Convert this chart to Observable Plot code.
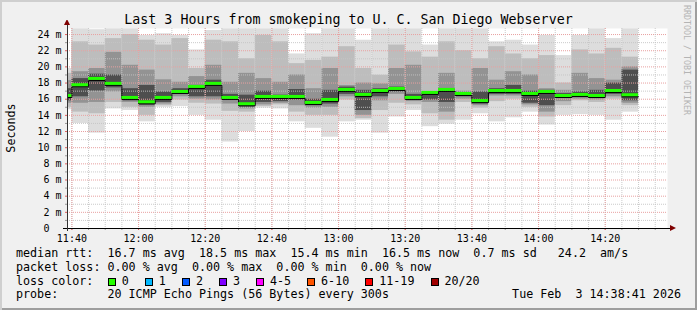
<!DOCTYPE html>
<html><head><meta charset="utf-8">
<script src="https://cdn.jsdelivr.net/npm/d3@7"></script>
<script src="https://cdn.jsdelivr.net/npm/@observablehq/plot@0.6"></script>
<style>
body{margin:0;background:#fff;}
#frame{position:relative;width:697px;height:310px;background:#f0f0f0;overflow:hidden;
  box-shadow: inset 2px 2px 0 #cfcfcf, inset -2px -2px 0 #9e9e9e;
  font-family:"DejaVu Sans Mono",monospace;color:#000;}
.abs{position:absolute;white-space:pre;}
#title{left:0;top:12px;width:697px;text-align:center;font-size:13.3px;line-height:15px;}
#ylab{left:-39.5px;top:121.5px;width:100px;height:12px;line-height:12px;text-align:center;font-size:11.7px;transform:rotate(-90deg);}
#rrd{left:627px;top:55px;width:120px;height:10px;line-height:10px;text-align:center;font-size:8.3px;color:#b4b4b4;transform:rotate(90deg);}
.row{position:absolute;left:16px;font-size:11.7px;line-height:13.67px;white-space:pre;}
.box{position:absolute;width:6px;height:6px;border:1px solid #000;top:278px;}
.lbl{position:absolute;font-size:11.7px;line-height:13.67px;top:275.1px;white-space:pre;}
#date{right:16px;top:288.4px;font-size:11.7px;line-height:13.67px;}
#chart{position:absolute;left:0;top:20px;}
</style></head>
<body>
<div id="frame">
  <div id="title" class="abs"></div>
  <div id="ylab" class="abs">Seconds</div>
  <div id="rrd" class="abs">RRDTOOL / TOBI OETIKER</div>
  <div id="chart"></div>
  <div id="row1" class="row" style="top:247.4px"></div>
  <div id="row2" class="row" style="top:261.07px"></div>
  <div id="row3" class="row" style="top:274.74px"></div>
  <div id="row4" class="row" style="top:288.4px"></div>
  <div id="date" class="abs"></div>
</div>
<script>
// ---- data (values in ms, one entry per 5-minute step) ----
const titleText = "Last 3 Hours from smokeping to U. C. San Diego Webserver";
const stepStarts = ["11:35","11:40","11:45","11:50","11:55","12:00","12:05","12:10","12:15","12:20","12:25","12:30",
  "12:35","12:40","12:45","12:50","12:55","13:00","13:05","13:10","13:15","13:20","13:25","13:30",
  "13:35","13:40","13:45","13:50","13:55","14:00","14:05","14:10","14:15","14:20","14:25"];
const medianRtt = [16.4,17.73,18.51,17.9,16.16,15.62,16.16,16.9,17.52,17.9,16.16,15.38,16.28,16.28,16.28,15.54,15.91,17.15,
  16.53,17.02,17.27,16.16,16.78,17.15,16.65,15.77,17.02,17.02,16.65,16.9,16.4,16.53,16.4,17.02,16.49];
const pingMax = [19.8,24.7,24.6,24.7,24.7,23.9,24.1,23.9,22.1,24.5,24.7,24.7,24.7,24.7,21.6,24.1,24.7,24.7,
  23.3,24.7,24.7,24.7,22.7,24.7,24.7,24.7,23.1,23.3,22.7,23.9,21.4,23.9,24.7,23.5,24.7];
const outerHi = [19.2,23.1,22.7,23.5,24.0,23.3,22.7,23.5,19.8,23.3,23.1,21.0,23.9,23.1,20.4,20.8,21.2,22.5,
  19.8,18.97,22.7,21.85,21.2,23.1,22.0,21.0,22.5,21.6,21.0,21.4,18.0,22.1,21.6,22.3,21.2];
const midHi = [18.3,19.4,19.8,21.8,20.2,19.6,18.4,18.1,18.8,20.2,18.1,19.2,18.55,18.1,19.0,17.3,19.8,17.7,
  18.0,17.9,19.8,20.2,16.9,19.2,17.0,19.8,18.35,19.4,19.0,17.3,17.1,19.2,18.55,18.35,20.0];
const innerHi = [17.3,18.55,19.1,19.0,17.3,17.7,16.9,17.3,17.7,18.35,16.6,16.5,17.0,16.5,17.2,16.0,17.1,17.5,
  17.1,17.3,17.5,16.6,16.8,17.3,16.8,16.9,17.3,17.7,17.0,17.1,16.7,16.9,17.1,18.0,19.6];
const innerLo = [15.8,16.3,17.0,17.4,15.8,15.25,15.6,16.6,16.3,16.3,15.9,15.0,15.6,15.7,15.9,15.2,15.4,16.6,
  14.6,16.3,16.9,15.9,15.9,15.6,16.3,15.4,16.6,16.6,15.5,15.2,16.1,16.2,16.1,16.6,15.8];
const midLo = [15.5,15.5,15.6,16.9,15.6,15.0,15.4,16.3,16.0,15.9,15.4,14.8,15.3,15.5,15.2,14.9,15.0,16.3,
  14.0,15.8,16.6,15.7,15.6,14.4,16.0,15.2,16.4,16.4,15.3,14.4,15.7,16.0,15.9,16.3,15.5];
const outerLo = [15.0,14.4,14.2,15.6,15.0,14.0,15.2,15.9,15.5,15.4,14.5,14.4,15.1,15.3,14.4,14.0,14.0,15.9,
  13.6,14.6,15.5,15.3,14.2,13.4,15.6,14.9,15.7,16.0,15.0,13.8,15.2,15.8,15.6,16.0,15.2];
const pingMin = [14.7,13.0,11.8,14.8,14.6,13.2,15.0,15.1,14.0,13.4,10.7,12.0,14.9,14.8,13.2,12.4,11.3,13.2,
  13.4,11.8,13.8,14.6,12.6,12.9,13.4,14.2,13.2,13.7,14.4,12.8,14.0,14.1,14.0,13.4,14.4];
const yTicks = [0,2,4,6,8,10,12,14,16,18,20,22,24];
const xTickLabels = ["11:40","12:00","12:20","12:40","13:00","13:20","13:40","14:00","14:20"];
const rttStats = ["16.7 ms avg","18.5 ms max","15.4 ms min","16.5 ms now","0.7 ms sd"," 24.2  am/s"];
const lossStats = ["0.00 % avg","0.00 % max","0.00 % min","0.00 % now"];
const lossLabels = ["0","1","2","3","4-5","6-10","11-19","20/20"];
const lossColors = ["#26ff00","#00b8ff","#0059ff","#7f00ff","#ff00ff","#ff5500","#ff0000","#a00000"];
const probeText = "20 ICMP Echo Pings (56 Bytes) every 300s";
const dateText = "Tue Feb  3 14:38:41 2026";
const windowStart = "11:38:41", windowEnd = "14:38:41";

// ---- build ----
const toDate = s => { const p = s.split(":").map(Number); return new Date(Date.UTC(2026,1,3,p[0],p[1],p[2]||0)); };
const STEP = 5*60*1000;
const rows = stepStarts.map((s,i) => {
  const t0 = toDate(s);
  return {t0, t1: new Date(+t0 + STEP), med: medianRtt[i],
    max: pingMax[i], min: pingMin[i], oh: outerHi[i], ol: outerLo[i],
    mh: midHi[i], ml: midLo[i], ih: innerHi[i], il: innerLo[i]};
});
const stepPts = rows.map(r => ({t: r.t0, v: r.med}));
stepPts.push({t: rows[rows.length-1].t1, v: rows[rows.length-1].med});
const x0 = toDate(windowStart), x1 = toDate(windowEnd);
const minorX = d3.utcMinute.every(5).range(toDate("11:40"), x1);
const majorX = xTickLabels.map(toDate);
const minorY = d3.range(1, 25, 2);
const gridMinor = "#c4c4c4", gridMajor = "#e8a0a0";

const plot = Plot.plot({
  width: 697, height: 225,
  marginLeft: 67, marginRight: 30, marginTop: 8, marginBottom: 17,
  style: {background: "transparent", fontFamily: "'DejaVu Sans Mono', monospace", fontSize: "10px", color: "#000"},
  x: {type: "utc", domain: [x0, x1]},
  y: {domain: [0, 24.75]},
  marks: [
    Plot.frame({fill: "#fff", stroke: null}),
    Plot.rect(rows, {x1: "t0", x2: "t1", y1: "min", y2: "max", fill: "#dddddd", clip: true}),
    Plot.rect(rows, {x1: "t0", x2: "t1", y1: "ol", y2: "oh", fill: "#bdbdbd", clip: true}),
    Plot.rect(rows, {x1: "t0", x2: "t1", y1: "ml", y2: "mh", fill: "#939393", clip: true}),
    Plot.rect(rows, {x1: "t0", x2: "t1", y1: "il", y2: "ih", fill: "#4e4e4e", clip: true}),
    Plot.ruleY(minorY, {stroke: gridMinor, strokeDasharray: "1,1", strokeOpacity: 0.9}),
    Plot.ruleY(yTicks.filter(d => d > 0), {stroke: gridMajor, strokeDasharray: "1,1"}),
    Plot.ruleX(minorX, {stroke: gridMinor, strokeDasharray: "1,1", strokeOpacity: 0.9}),
    Plot.ruleX(majorX, {stroke: gridMajor, strokeDasharray: "1,1"}),
    Plot.line(stepPts, {x: "t", y: "v", curve: "step-after", stroke: "#000", strokeWidth: 1, dy: 1.5, clip: true}),
    Plot.ruleY(rows, {x1: "t0", x2: "t1", y: "med", stroke: "#22ff00", strokeWidth: 3, dy: -0.5, clip: true}),
    Plot.axisY(minorY, {tickSize: 2, stroke: "#999", tickFormat: () => "", label: null}),
    Plot.axisY(yTicks, {tickSize: 2, tickPadding: 4, stroke: "#e06060", fill: "#000",
      tickFormat: d => d === 0 ? "0\u00a0\u00a0" : d + " m", label: null}),
    Plot.axisX(minorX, {tickSize: 2, stroke: "#999", tickFormat: () => "", label: null}),
    Plot.axisX(majorX, {tickSize: 2, tickPadding: 4, stroke: "#e06060", fill: "#000",
      tickFormat: d3.utcFormat("%H:%M"), label: null}),
    Plot.ruleY([0], {stroke: "#000", insetLeft: -4, insetRight: -4}),
    Plot.ruleX([x0], {stroke: "#333", insetTop: -3, insetBottom: -3})
  ]
});
document.getElementById("chart").appendChild(plot);

// axis arrows (decoration attached to the axis ends)
const sx = plot.scale("x"), sy = plot.scale("y");
const ax = sx.apply(x0), ay0 = sy.apply(0), ayTop = sy.apply(24.75), axEnd = sx.apply(x1);
const svg = d3.select(plot);
svg.append("path").attr("d", `M${ax-3},${ayTop-3}L${ax+3},${ayTop-3}L${ax},${ayTop-9}Z`).attr("fill", "#7f0000");
svg.append("path").attr("d", `M${axEnd+3},${ay0-3}L${axEnd+3},${ay0+3}L${axEnd+9},${ay0}Z`).attr("fill", "#7f0000");

// title and legend
document.getElementById("title").textContent = titleText;
document.getElementById("row1").textContent = "median rtt:  " + rttStats.join("  ");
document.getElementById("row2").textContent = "packet loss: " + lossStats.join("  ");
document.getElementById("row3").textContent = "loss color:";
document.getElementById("row4").textContent = "probe:       " + probeText;
document.getElementById("date").textContent = dateText;
const frame = document.getElementById("frame");
let bx = 108;
lossLabels.forEach((l, i) => {
  const b = document.createElement("div");
  b.className = "box"; b.style.left = bx + "px"; b.style.background = lossColors[i];
  frame.appendChild(b);
  const t = document.createElement("div");
  t.className = "lbl"; t.style.left = (bx + 13.8) + "px"; t.textContent = l;
  frame.appendChild(t);
  bx = bx + 13.8 + l.length * 7.04 + 16.2;
});
</script>
</body></html>
